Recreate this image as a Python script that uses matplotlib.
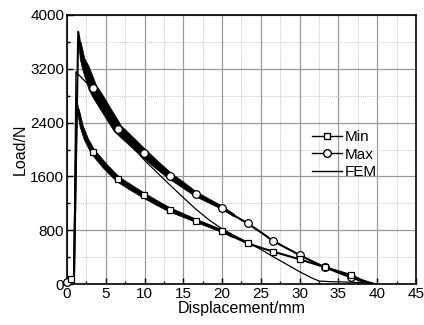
import numpy as np
import matplotlib
matplotlib.use("Agg")
import matplotlib.pyplot as plt
from matplotlib.patches import Polygon
from matplotlib.transforms import IdentityTransform
from matplotlib.lines import Line2D
from matplotlib.ticker import MultipleLocator

plt.rcParams['font.family'] = ['Liberation Sans', 'DejaVu Sans']

# ---- data ----
max_x = [0, 0.9, 1.45, 2.0, 3.35, 5.0, 6.6, 8.3, 9.9, 11.6, 13.3, 15.0, 16.6, 18.3,
         20.0, 21.6, 23.3, 25.0, 26.6, 28.3, 30.0, 31.6, 33.3, 35.0, 36.6, 38.0, 39.7]
max_y = [30, 100, 3750, 3350, 2912, 2600, 2303, 2120, 1946, 1770, 1605, 1470, 1337, 1235,
         1134, 1015, 901, 770, 639, 535, 431, 340, 248, 170, 99, 45, 0]
max_marks = [0, 4, 6, 8, 10, 12, 14, 16, 18, 20, 22, 24]

min_x = [0, 0.5, 0.9, 1.25, 1.9, 2.5, 3.35, 5.0, 6.6, 8.3, 9.9, 11.6, 13.3, 15.0, 16.6,
         18.3, 20.0, 21.6, 23.3, 25.0, 26.6, 28.3, 30.0, 31.6, 33.3, 35.0, 36.6, 38.0, 39.5]
min_y = [0, 70, 100, 2700, 2340, 2150, 1966, 1740, 1555, 1430, 1317, 1205, 1100, 1020, 941,
         865, 787, 695, 604, 540, 481, 425, 367, 310, 250, 190, 134, 60, 0]
min_marks = [1, 6, 8, 10, 12, 14, 16, 18, 20, 22, 24, 26]

fem_x = [0, 0.9, 1.15, 3.2, 5.0, 6.6, 8.3, 10.0, 11.6, 13.3, 15.0, 16.5, 18.3, 19.9, 21.6,
         23.3, 25.0, 26.6, 28.3, 30.0, 31.5, 32.5, 34.0, 36.0, 38.0, 40.0]
fem_y = [0, 50, 3155, 2910, 2580, 2290, 2060, 1840, 1660, 1470, 1285, 1125, 955, 827, 720,
         620, 515, 406, 295, 183, 95, 45, 35, 30, 20, 0]

x_ticks = [0, 5, 10, 15, 20, 25, 30, 35, 40, 45]
y_ticks = [0, 800, 1600, 2400, 3200, 4000]

fig = plt.figure(figsize=(4.24, 3.25), dpi=100)
ax = fig.add_axes([0.158, 0.126, 0.823, 0.828])
ax.set_xlim(0, 45)
ax.set_ylim(0, 4000)


def banded(ax, x, y, wpts, wvals, base_lw):
    """Draw the curve as a base line plus a noise band whose pixel width varies."""
    ax.plot(x, y, color='black', lw=base_lw, zorder=3, solid_joinstyle='round')
    x = np.asarray(x, float)
    y = np.asarray(y, float)
    xs, ys = [], []
    for i in range(len(x) - 1):
        t = np.linspace(0, 1, 10, endpoint=False)
        xs.extend(x[i] + t * (x[i + 1] - x[i]))
        ys.extend(y[i] + t * (y[i + 1] - y[i]))
    xs.append(x[-1]); ys.append(y[-1])
    xs = np.array(xs); ys = np.array(ys)
    hw = np.interp(xs, wpts, wvals) * fig.dpi / 72.0 / 2.0
    sel = hw > base_lw * fig.dpi / 72.0 / 2.0
    xs, ys, hw = xs[sel], ys[sel], hw[sel]
    d = ax.transData.transform(np.column_stack([xs, ys]))
    tang = np.gradient(d, axis=0)
    tang /= np.linalg.norm(tang, axis=1, keepdims=True)
    nrm = np.column_stack([-tang[:, 1], tang[:, 0]])
    upper = d + nrm * hw[:, None]
    lower = d - nrm * hw[:, None]
    poly = np.vstack([upper, lower[::-1]])
    ax.add_patch(Polygon(poly, closed=True, transform=IdentityTransform(),
                         facecolor='black', edgecolor='black', lw=0.5, zorder=3))


banded(ax, max_x, max_y, [0, 1.6, 2.4, 4, 9, 13, 17, 20, 22],
       [1.4, 1.4, 5.0, 7.0, 6.0, 4.5, 3.2, 2.2, 1.4], 1.5)
banded(ax, min_x, min_y, [0, 1.35, 2.2, 4, 8, 12, 16, 20, 22],
       [1.4, 1.4, 2.8, 3.8, 3.8, 3.2, 2.4, 1.8, 1.4], 1.5)
ax.plot(fem_x, fem_y, color='black', lw=0.9, zorder=4)

ax.plot(np.array(max_x)[max_marks], np.array(max_y)[max_marks], ls='none', marker='o',
        ms=5.5, mfc='white', mec='black', mew=0.9, zorder=5, clip_on=False)
ax.plot(np.array(min_x)[min_marks], np.array(min_y)[min_marks], ls='none', marker='s',
        ms=4.8, mfc='white', mec='black', mew=0.9, zorder=5, clip_on=False)

ax.set_xticks(x_ticks)
ax.set_yticks(y_ticks)
ax.xaxis.set_minor_locator(MultipleLocator(2.5))
ax.yaxis.set_minor_locator(MultipleLocator(400))
ax.grid(which='major', color='#9a9a9a', lw=0.9, zorder=0)
ax.grid(which='minor', color='#c8c8c8', lw=0.7, ls=(0, (1, 1)), zorder=0)
ax.set_axisbelow(True)
ax.tick_params(which='both', direction='in', labelsize=11, top=False, right=False)
ax.tick_params(which='major', length=4, width=1, pad=2)
ax.tick_params(which='minor', length=2.5, width=1)
for s in ax.spines.values():
    s.set_linewidth(1.2)

ax.set_xlabel('Displacement/mm', fontsize=11.5, labelpad=0)
ax.set_ylabel('Load/N', fontsize=11.5, labelpad=2)

handles = [
    Line2D([], [], color='black', lw=1, marker='s', ms=4.8, mfc='white', mec='black'),
    Line2D([], [], color='black', lw=1, marker='o', ms=5.5, mfc='white', mec='black'),
    Line2D([], [], color='black', lw=1),
]
leg = ax.legend(handles, ['Min', 'Max', 'FEM'], frameon=False, fontsize=11,
                loc='upper left', bbox_to_anchor=(0.68, 0.6), handlelength=2.0,
                handletextpad=0.15, labelspacing=0.22, borderpad=0, numpoints=1)

fig.savefig('out.png', dpi=100)
